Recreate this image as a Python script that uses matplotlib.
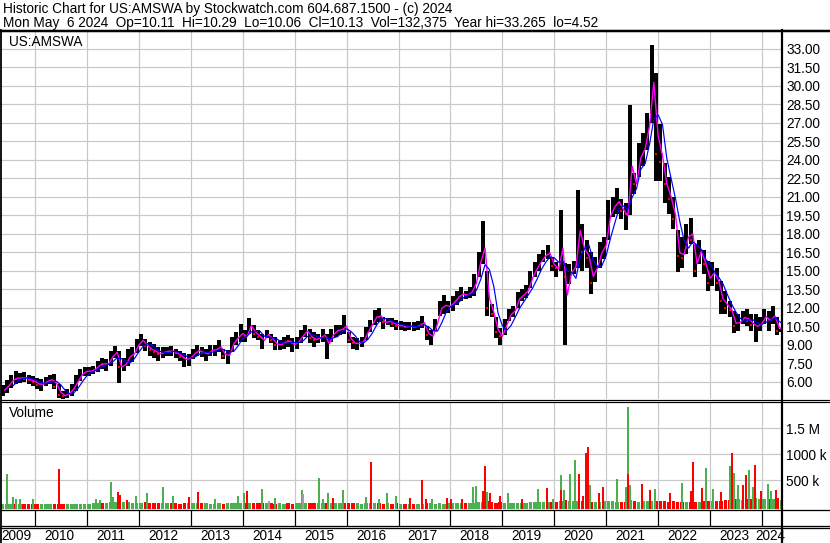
import matplotlib
matplotlib.use("Agg")
import matplotlib.pyplot as plt
import numpy as np
import pandas as pd

plt.rcParams["font.family"] = ["Liberation Sans", "DejaVu Sans"]

W, H = 830, 543
PX = 0.72  # one pixel in points at dpi 100

header1 = "Historic Chart for US:AMSWA by Stockwatch.com 604.687.1500 - (c) 2024"
header2 = ("Mon May  6 2024  Op=10.11  Hi=10.29  Lo=10.06  Cl=10.13  "
           "Vol=132,375  Year hi=33.265  lo=4.52")
symbol = "US:AMSWA"

# monthly bars, May 2009 .. May 2024
first_month = "2009-05"
highs = [
    5.7, 6.1, 6.5, 6.85, 6.7, 6.75, 6.5, 6.45,
    6.3, 6.2, 6.35, 6.5, 6.6, 5.8, 5.25, 5.4, 5.8, 6.5, 7.0, 7.15,
    7.2, 7.3, 7.7, 7.95, 7.85, 8.5, 8.9, 8.5, 7.95, 8.65, 8.8, 9.45,
    9.85, 9.45, 9.2, 9.05, 8.8, 8.8, 8.8, 8.9, 8.65, 8.5, 8.35, 8.25,
    8.65, 8.95, 8.8, 8.65, 8.95, 8.95, 9.35, 8.65, 8.55, 9.6, 10.0, 10.7,
    10.15, 11.15, 10.6, 10.15, 9.9, 10.15, 9.9, 9.6, 9.35, 9.6, 9.75, 9.5,
    9.6, 10.15, 10.6, 10.3, 10.05, 9.9, 10.3, 9.9, 10.3, 10.6, 10.6, 11.4,
    10.05, 9.6, 9.5, 9.6, 10.45, 11.0, 11.8, 11.95, 11.25, 11.15, 11.15, 11.0,
    10.9, 10.8, 10.8, 10.8, 10.9, 11.3, 10.5, 10.2, 11.05, 12.55, 13.0, 12.55,
    12.95, 13.35, 13.65, 13.35, 13.65, 14.75, 16.5, 19.0, 15.0, 12.3, 11.2, 10.35,
    11.05, 11.85, 12.15, 13.25, 13.5, 13.8, 15.0, 15.7, 16.35, 16.65, 17.05, 16.1,
    15.7, 19.9, 15.6, 15.55, 15.8, 21.55, 18.8, 17.45, 16.5, 16.1, 17.3, 17.75,
    20.75, 21.0, 21.7, 20.85, 20.45, 28.4, 22.9, 25.35, 26.2, 27.8, 33.3, 31.0,
    26.9, 23.7, 22.6, 21.0, 18.3, 17.7, 18.8, 19.25, 17.2, 17.45, 16.65, 15.8,
    15.7, 15.25, 14.2, 13.35, 12.55, 11.75, 11.45, 11.75, 11.85, 11.45, 11.45, 11.2,
    11.85, 11.75, 12.15, 11.2, 10.29,
]
lows = [
    4.8, 5.1, 5.5, 5.8, 5.9, 6.0, 5.8, 5.65,
    5.4, 5.25, 5.65, 5.8, 5.4, 4.7, 4.5, 4.7, 4.85, 5.25, 6.05, 6.45,
    6.45, 6.6, 6.75, 7.0, 6.9, 7.3, 7.95, 5.9, 6.85, 7.3, 7.55, 8.35,
    8.9, 8.5, 8.1, 7.95, 7.7, 7.95, 8.1, 8.1, 7.95, 7.7, 7.15, 7.3,
    7.8, 8.1, 8.0, 7.7, 8.1, 8.1, 8.4, 7.85, 7.45, 8.4, 8.95, 9.2,
    9.2, 9.9, 9.5, 9.35, 8.65, 9.5, 9.1, 8.55, 8.55, 8.65, 8.8, 8.4,
    8.65, 9.1, 9.6, 9.1, 8.8, 9.1, 9.2, 7.8, 9.2, 9.6, 9.75, 9.9,
    9.1, 8.65, 8.55, 8.8, 9.35, 10.05, 10.6, 10.85, 10.3, 10.6, 10.45, 10.15,
    10.2, 10.1, 10.2, 10.1, 10.2, 10.35, 9.4, 8.95, 10.1, 11.3, 11.45, 11.6,
    11.75, 12.25, 12.55, 12.7, 12.8, 12.95, 14.45, 15.5, 11.3, 11.2, 9.55, 8.95,
    9.8, 10.9, 11.2, 12.0, 12.55, 12.8, 13.6, 14.45, 15.0, 15.7, 15.95, 15.0,
    14.45, 15.0, 8.95, 13.9, 14.7, 15.2, 15.0, 15.25, 13.1, 14.05, 15.25, 15.95,
    17.5, 19.35, 19.6, 19.2, 18.3, 19.5, 21.25, 22.6, 23.45, 24.8, 27.0, 22.3,
    22.3, 20.45, 19.6, 18.4, 14.85, 15.25, 16.35, 17.2, 14.45, 15.55, 14.7, 13.35,
    13.75, 13.35, 11.45, 11.45, 11.2, 9.95, 10.1, 10.65, 10.5, 10.1, 9.2, 10.1,
    10.65, 10.1, 10.65, 9.8, 10.06,
]
closes = [
    5.4, 5.8, 6.3, 6.2, 6.3, 6.2, 6.1, 6.0,
    5.7, 5.9, 6.1, 6.2, 5.6, 4.9, 4.8, 5.0, 5.6, 6.3, 6.7, 6.9,
    6.9, 7.1, 7.5, 7.4, 7.5, 8.2, 8.3, 7.2, 7.3, 8.1, 8.4, 9.1,
    9.3, 8.9, 8.6, 8.4, 8.2, 8.4, 8.5, 8.4, 8.3, 8.0, 7.9, 8.1,
    8.4, 8.5, 8.3, 8.4, 8.6, 8.7, 8.7, 8.1, 8.4, 9.3, 9.7, 9.8,
    9.6, 10.6, 9.9, 9.6, 9.5, 9.8, 9.4, 9.0, 9.1, 9.4, 9.3, 9.1,
    9.4, 9.9, 10.1, 9.5, 9.4, 9.6, 9.8, 9.5, 9.9, 10.2, 10.3, 10.2,
    9.4, 9.1, 9.2, 9.4, 10.2, 10.8, 11.3, 11.2, 10.8, 10.9, 10.7, 10.5,
    10.5, 10.4, 10.5, 10.4, 10.6, 10.7, 9.8, 9.9, 10.9, 12.0, 12.1, 12.1,
    12.6, 13.0, 13.1, 13.0, 13.3, 14.2, 16.0, 16.0, 12.0, 11.5, 10.0, 9.7,
    10.8, 11.5, 11.9, 12.9, 13.0, 13.5, 14.6, 15.2, 15.8, 16.2, 16.3, 15.4,
    15.2, 15.5, 14.5, 15.0, 15.4, 18.0, 16.5, 16.0, 14.0, 15.5, 16.8, 17.5,
    20.0, 20.2, 20.5, 19.8, 19.6, 22.5, 22.0, 24.5, 25.0, 27.5, 30.5, 24.5,
    23.8, 22.0, 20.8, 19.2, 16.2, 16.0, 18.0, 17.5, 15.0, 16.8, 15.5, 14.0,
    15.0, 14.0, 12.5, 12.0, 11.8, 10.5, 10.8, 11.2, 10.9, 10.6, 10.8, 10.9,
    11.3, 11.0, 11.2, 10.1, 10.13,
]
# typical volume level per month (thousands)
vol_base = [
    40, 50, 45, 40, 45, 40, 50, 45,
    45, 40, 45, 40, 50, 40, 45, 40, 45, 50, 45, 40,
    50, 55, 60, 60, 70, 80, 90, 100, 85, 80, 70, 65,
    70, 75, 70, 65, 60, 65, 60, 55, 55, 50, 55, 60,
    55, 60, 60, 55, 50, 50, 55, 50, 55, 60, 65, 70,
    70, 65, 60, 55, 55, 60, 55, 50, 55, 50, 55, 50,
    55, 60, 65, 60, 55, 60, 60, 65, 60, 55, 55, 60,
    60, 55, 55, 50, 55, 60, 55, 55, 50, 55, 50, 55,
    50, 45, 50, 45, 45, 50, 55, 60, 50, 55, 50, 55,
    60, 55, 60, 65, 60, 70, 80, 90, 100, 80, 70, 75,
    70, 65, 60, 70, 65, 60, 75, 80, 85, 90, 85, 80,
    90, 110, 120, 110, 100, 100, 110, 95, 90, 85, 90, 100,
    100, 95, 90, 85, 90, 120, 100, 90, 95, 100, 110, 100,
    100, 95, 90, 95, 85, 90, 85, 90, 80, 90, 95, 100,
    110, 105, 110, 120, 130, 140, 150, 130, 140, 150, 160, 150,
    150, 140, 150, 160, 120,
]
# single heavy-volume weeks (date in years, thousands, g=up r=down n=flat)
spike_dates = [
    2009.47, 2009.57, 2009.63, 2009.71, 2009.96, 2010.46,
    2011.17, 2011.25, 2011.46, 2011.50, 2011.59, 2011.63, 2011.78, 2011.95,
    2012.15, 2012.46, 2012.66, 2012.96, 2013.14, 2013.46, 2013.91,
    2014.03, 2014.08, 2014.37, 2014.50, 2014.63,
    2015.15, 2015.17, 2015.47, 2015.55, 2015.65, 2015.73, 2015.94,
    2016.38, 2016.47, 2016.63, 2016.77, 2016.95,
    2017.22, 2017.45, 2017.53, 2017.64, 2017.93,
    2018.01, 2018.23, 2018.44, 2018.49, 2018.62, 2018.67, 2018.70, 2018.76, 2018.95,
    2019.11, 2019.37, 2019.69, 2019.86, 2019.97,
    2020.12, 2020.13, 2020.18, 2020.30, 2020.40, 2020.47, 2020.55, 2020.62,
    2020.65, 2020.69, 2020.87, 2020.93,
    2021.21, 2021.38, 2021.41, 2021.41, 2021.45, 2021.68, 2021.85, 2021.93,
    2022.23, 2022.45, 2022.64, 2022.68, 2022.85, 2022.93,
    2023.05, 2023.21, 2023.38, 2023.42, 2023.47, 2023.53, 2023.63, 2023.69,
    2023.74, 2023.82, 2023.87, 2023.98,
    2024.12, 2024.17, 2024.26,
]
spike_vols = [
    620, 180, 140, 140, 140, 715,
    135, 120, 465, 180, 275, 215, 120, 200,
    250, 370, 200, 180, 280, 140, 200,
    265, 295, 340, 100, 165,
    310, 230, 550, 140, 255, 165, 320,
    180, 860, 145, 255, 205,
    165, 505, 135, 140, 165,
    150, 140, 365, 390, 295, 775, 275, 250, 200,
    265, 150, 335, 350, 150,
    595, 310, 310, 620, 890, 620, 200, 1020,
    1135, 410, 255, 365,
    525, 365, 1915, 625, 405, 430, 310, 335,
    250, 450, 295, 850, 350, 735,
    335, 270, 775, 1025, 640, 405, 410, 600,
    700, 365, 795, 295,
    430, 300, 310,
]
spike_dirs = (
    "ggggg" "r"
    "ggggrrrg"
    "gggrrgg"
    "grgng"
    "gngggrg"
    "grggg"
    "rrrgr"
    "rrggrrgrr"
    "grgrg"
    "grgggrrr"
    "rgrr"
    "gggrgrrg"
    "rgrrrg"
    "grgrggrr"
    "ggrr"
    "ggr"
)

price_ticks = [33.0, 31.5, 30.0, 28.5, 27.0, 25.5, 24.0, 22.5, 21.0, 19.5,
               18.0, 16.5, 15.0, 13.5, 12.0, 10.5, 9.0, 7.5, 6.0]
vol_ticks = [500, 1000, 1500]
vol_labels = ["500 k", "1000 k", "1.5 M"]
years = list(range(2009, 2025))

assert len(highs) == len(lows) == len(closes) == len(vol_base) == 181
assert len(spike_dates) == len(spike_vols) == len(spike_dirs)

# ---- derived series
months = pd.period_range(first_month, periods=len(highs), freq="M")
t_mid = np.asarray(months.year + (months.month - 0.5) / 12.0, dtype=float)
hi = np.array(highs)
lo = np.array(lows)
cl = np.array(closes)
up = np.r_[True, cl[1:] >= cl[:-1]]
typical = (hi + lo + cl) / 3.0
ma_short = typical
ma_long = pd.Series(typical).rolling(3).mean().to_numpy()

GREEN = "#4caf50"
RED = "#ff0000"
GRID = "#c8c8c8"
dir_color = {"g": GREEN, "r": RED, "n": "#a0a0a0"}

# x scale: 2010 at px 35, 51.93 px per year, plot area 0..782 px
PPY = 51.93
x_left = 2010 - 35 / PPY
x_right = 2010 + (782 - 35) / PPY


def box(x0, y0, x1, y1):
    return [x0 / W, 1 - y1 / H, (x1 - x0) / W, (y1 - y0) / H]


fig = plt.figure(figsize=(W / 100, H / 100), dpi=100)

# ---- price panel
ax = fig.add_axes(box(0, 32, 782, 399))
p_top = 33 + (48.7 - 32) / 12.33
p_bot = 33 - (399 - 48.7) / 12.33
ax.set_xlim(x_left, x_right)
ax.set_ylim(p_bot, p_top)
ax.set_xticks(years[1:])
ax.set_yticks(price_ticks)
ax.set_yticklabels(["%.2f" % v for v in price_ticks])
ax.yaxis.tick_right()
ax.tick_params(axis="y", length=0, pad=3, labelsize=9.8)
ax.tick_params(axis="x", length=0, labelbottom=False)
ax.grid(True, color=GRID, linewidth=1.2 * PX)
ax.set_axisbelow(True)
for s in ax.spines.values():
    s.set_visible(False)

ax.vlines(t_mid, lo, hi, color="black", linewidth=4.0 * PX, zorder=3)
ax.plot(t_mid[~up], cl[~up], "s", color=RED, markersize=1.8, markeredgewidth=0, zorder=4)
ax.plot(t_mid + 1 / 24, ma_short, color="#ff00ff", linewidth=1.4 * PX, zorder=5)
ax.plot(t_mid + 1 / 24, ma_long, color="#0000ff", linewidth=1.2 * PX, zorder=6)
ax.text(9 / 782, 1 - 3 / 367, symbol, transform=ax.transAxes, ha="left", va="top",
        fontsize=9.8)

# ---- volume panel
VMIN = (506.3 - 509) / 52 * 1000
VMAX = (506.3 - 402) / 52 * 1000
av = fig.add_axes(box(0, 402, 782, 509))
av.set_xlim(x_left, x_right)
av.set_ylim(VMIN, VMAX)
av.set_xticks(years[1:])
av.set_yticks(vol_ticks)
av.set_yticklabels(vol_labels)
av.yaxis.tick_right()
av.tick_params(axis="y", length=0, pad=3, labelsize=9.8)
av.tick_params(axis="x", length=0, labelbottom=False)
av.grid(True, color=GRID, linewidth=1.2 * PX)
av.set_axisbelow(True)
for s in av.spines.values():
    s.set_visible(False)

vb = np.array(vol_base, dtype=float)
av.bar(t_mid, vb - VMIN, bottom=VMIN, width=0.8 / 12,
       color=[GREEN if u else RED for u in up], linewidth=0, zorder=3)
sv = np.array(spike_vols, dtype=float)
av.bar(spike_dates, sv - VMIN, bottom=VMIN, width=2.0 / PPY,
       color=[dir_color[d] for d in spike_dirs], linewidth=0, zorder=4)
av.text(9 / 782, 1 - 4 / 107, "Volume", transform=av.transAxes, ha="left", va="top",
        fontsize=9.8)

# ---- date strip
ad = fig.add_axes(box(0, 509, 782, 543))
ad.set_xlim(x_left, x_right)
ad.set_ylim(34, 0)
ad.axis("off")
ad.vlines(years[1:], 1, 17, color="black", linewidth=1.2 * PX)
bounds = [x_left] + years[1:] + [x_right]
for i, yr in enumerate(years):
    ad.text((bounds[i] + bounds[i + 1]) / 2 - 0.03, 26.5, str(yr), ha="center",
            va="center", fontsize=9.8)

# ---- frame lines and header (pixel coordinates)
fr = fig.add_axes([0, 0, 1, 1], zorder=10)
fr.set_xlim(0, W)
fr.set_ylim(H, 0)
fr.axis("off")
fr.patch.set_alpha(0)
for yy, lw in [(30.5, 2.5), (399.5, 1.2), (402, 1.2), (510, 1.3), (526, 1.3),
               (528, 1.3), (542.5, 1.0)]:
    fr.plot([0, W], [yy, yy], color="black", linewidth=lw * PX, solid_capstyle="butt")
fr.plot([0.8, 0.8], [30, H], color="black", linewidth=1.8 * PX)
fr.plot([782, 782], [30, H], color="black", linewidth=2.2 * PX)
fr.text(3, 2, header1, ha="left", va="top", fontsize=9.8)
fr.text(3, 16, header2, ha="left", va="top", fontsize=9.8)

fig.savefig("out.png", dpi=100)
